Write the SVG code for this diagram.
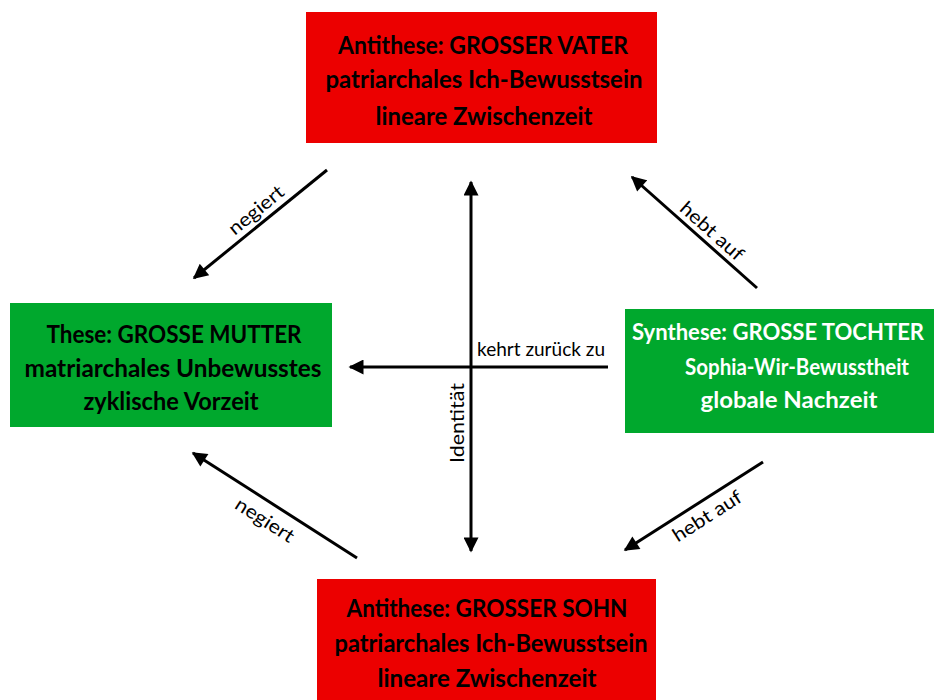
<svg xmlns="http://www.w3.org/2000/svg" width="934" height="700" viewBox="0 0 934 700">
<style>
.red{fill:#EC0000}
.green{fill:#00A82D}
.bt{font-family:Lato,"Open Sans","Liberation Sans",sans-serif;font-weight:bold;font-size:24px;text-anchor:middle;fill:#000}
.wt{fill:#fff;font-size:23px}
.lb{font-family:Lato,"Open Sans","Liberation Sans",sans-serif;font-size:19px;text-anchor:middle;fill:#000}
.ln{stroke:#000;stroke-width:3;fill:none;marker-end:url(#ah)}
</style>
<defs>
<marker id="ah" viewBox="0 0 10 10" refX="9" refY="5" markerWidth="5.5" markerHeight="5" orient="auto" markerUnits="strokeWidth">
<path d="M0,0 L10,5 L0,10 z" fill="#000"/>
</marker>
</defs>
<rect width="934" height="700" fill="#fff"/>
<g id="vater">
<rect class="red" x="306" y="12" width="351" height="131"/>
<text class="bt" x="483" y="54" textLength="290" lengthAdjust="spacingAndGlyphs">Antithese: GROSSER VATER</text>
<text class="bt" x="484" y="88" textLength="317" lengthAdjust="spacingAndGlyphs">patriarchales Ich-Bewusstsein</text>
<text class="bt" x="484" y="125" textLength="217" lengthAdjust="spacingAndGlyphs">lineare Zwischenzeit</text>
</g>
<g id="mutter">
<rect class="green" x="10" y="303" width="322" height="124"/>
<text class="bt" x="174" y="343" textLength="255" lengthAdjust="spacingAndGlyphs">These: GROSSE MUTTER</text>
<text class="bt" x="173" y="377" textLength="297" lengthAdjust="spacingAndGlyphs">matriarchales Unbewusstes</text>
<text class="bt" x="171" y="410" textLength="175" lengthAdjust="spacingAndGlyphs">zyklische Vorzeit</text>
</g>
<g id="tochter">
<rect class="green" x="625" y="309" width="309" height="124"/>
<text class="bt wt" x="778" y="340" textLength="292" lengthAdjust="spacingAndGlyphs">Synthese: GROSSE TOCHTER</text>
<text class="bt wt" x="797" y="375" textLength="224" lengthAdjust="spacingAndGlyphs">Sophia-Wir-Bewusstheit</text>
<text class="bt wt" x="789" y="408" textLength="177" lengthAdjust="spacingAndGlyphs">globale Nachzeit</text>
</g>
<g id="sohn">
<rect class="red" x="317" y="579" width="339" height="130"/>
<text class="bt" x="487" y="617" textLength="281" lengthAdjust="spacingAndGlyphs">Antithese: GROSSER SOHN</text>
<text class="bt" x="491" y="652" textLength="313" lengthAdjust="spacingAndGlyphs">patriarchales Ich-Bewusstsein</text>
<text class="bt" x="487" y="687" textLength="219" lengthAdjust="spacingAndGlyphs">lineare Zwischenzeit</text>
</g>
<g id="connectors">
<line class="ln" x1="327" y1="170" x2="194" y2="278"/>
<line class="ln" x1="757" y1="288" x2="632" y2="177"/>
<line class="ln" x1="357" y1="558" x2="193" y2="453"/>
<line class="ln" x1="763" y1="462" x2="625" y2="550"/>
<line class="ln" x1="471" y1="367" x2="471" y2="182"/>
<line class="ln" x1="471" y1="367" x2="471" y2="551"/>
<line class="ln" x1="608" y1="367" x2="350" y2="367"/>
<text class="lb" transform="translate(256,210) rotate(-39.3)" dy=".35em" textLength="66" lengthAdjust="spacingAndGlyphs">negiert</text>
<text class="lb" transform="translate(712,231) rotate(41.6)" dy=".35em" textLength="78" lengthAdjust="spacingAndGlyphs">hebt auf</text>
<text class="lb" transform="translate(265,520) rotate(32.6)" dy=".35em" textLength="66" lengthAdjust="spacingAndGlyphs">negiert</text>
<text class="lb" transform="translate(707,516) rotate(-32.5)" dy=".35em" textLength="78" lengthAdjust="spacingAndGlyphs">hebt auf</text>
<text class="lb" x="541" y="356" textLength="128" lengthAdjust="spacingAndGlyphs">kehrt zurück zu</text>
<text class="lb" transform="translate(464,423) rotate(-90)" textLength="80" lengthAdjust="spacingAndGlyphs">Identität</text>
</g>
</svg>
